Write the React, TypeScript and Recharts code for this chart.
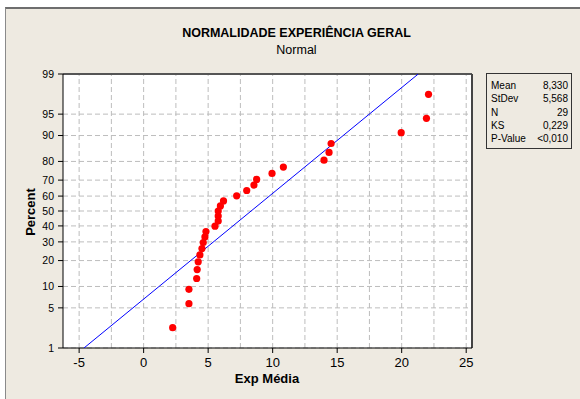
import React from 'react'
import {
	CartesianGrid,
	ReferenceLine,
	Scatter,
	ScatterChart,
	XAxis,
	YAxis,
} from 'recharts'

// percentis (posições de Minitab) e valores observados de Exp Média
const percentValues = [
	2.38, 5.78, 9.18, 12.59, 15.99, 19.39, 22.79, 26.19, 29.59, 33.0, 36.39,
	39.8, 43.2, 46.6, 50.0, 53.4, 56.8, 60.2, 63.61, 67.01, 70.41, 73.81, 77.21,
	80.61, 84.01, 87.41, 90.82, 94.22, 97.62,
]
const expMedia = [
	2.25, 3.51, 3.51, 4.11, 4.15, 4.23, 4.36, 4.52, 4.62, 4.75, 4.83, 5.53,
	5.78, 5.78, 5.78, 5.95, 6.19, 7.21, 7.99, 8.55, 8.76, 9.95, 10.83, 13.98,
	14.37, 14.53, 19.96, 21.92, 22.08,
]

const percentTicks = [1, 5, 10, 20, 30, 40, 50, 60, 70, 80, 90, 95, 99]
const xTicks = [-5, 0, 5, 10, 15, 20, 25]
const xGrid = [-5, -2.5, 0, 2.5, 5, 7.5, 10, 12.5, 15, 17.5, 20, 22.5, 25]

const statLabels = ['Mean', 'StDev', 'N', 'KS', 'P-Value']
const statValues = ['8,330', '5,568', '29', '0,229', '<0,010']
const fitMean = 8.33
const fitStDev = 5.568

// inversa da normal padrão (Acklam)
function probit(p: number) {
	const a = [-39.69683028665376, 220.9460984245205, -275.9285104469687, 138.357751867269, -30.66479806614716, 2.506628277459239]
	const b = [-54.47609879822406, 161.5858368580409, -155.6989798598866, 66.80131188771972, -13.28068155288572]
	const c = [-0.007784894002430293, -0.3223964580411365, -2.400758277161838, -2.549732539343734, 4.374664141464968, 2.938163982698783]
	const d = [0.007784695709041462, 0.3224671290700398, 2.445134137142996, 3.754408661907416]
	const pl = 0.02425
	if (p < pl) {
		const q = Math.sqrt(-2 * Math.log(p))
		return (((((c[0] * q + c[1]) * q + c[2]) * q + c[3]) * q + c[4]) * q + c[5]) /
			((((d[0] * q + d[1]) * q + d[2]) * q + d[3]) * q + 1)
	}
	if (p <= 1 - pl) {
		const q = p - 0.5
		const r = q * q
		return ((((((a[0] * r + a[1]) * r + a[2]) * r + a[3]) * r + a[4]) * r + a[5]) * q) /
			(((((b[0] * r + b[1]) * r + b[2]) * r + b[3]) * r + b[4]) * r + 1)
	}
	const q = Math.sqrt(-2 * Math.log(1 - p))
	return -(((((c[0] * q + c[1]) * q + c[2]) * q + c[3]) * q + c[4]) * q + c[5]) /
		((((d[0] * q + d[1]) * q + d[2]) * q + d[3]) * q + 1)
}

const zTicks = percentTicks.map((p) => probit(p / 100))
const zMin = zTicks[0]
const zMax = zTicks[zTicks.length - 1]

const points = expMedia.map((x, i) => ({ x, z: probit(percentValues[i] / 100) }))
const fitLine = [
	{ x: fitMean + fitStDev * zMin, z: zMin },
	{ x: fitMean + fitStDev * zMax, z: zMax },
]

const font = "'Liberation Sans', Arial, sans-serif"
const beige = '#EEEAE1'

const Dot = (props: any) => (
	<circle cx={props.cx} cy={props.cy} r={3.6} fill='#FF0000' />
)

export default function App() {
	return (
		<div
			style={{
				position: 'absolute',
				left: 0,
				top: 0,
				width: 580,
				height: 399,
				background: '#fff',
				overflow: 'hidden',
				fontFamily: font,
			}}
		>
			<div
				style={{
					position: 'absolute',
					left: 5,
					top: 7,
					width: 600,
					height: 420,
					background: beige,
					borderTop: '2px solid #6e6e6e',
					borderLeft: '1px solid #8a8a8a',
				}}
			/>
			<div
				style={{
					position: 'absolute',
					left: 0,
					width: 593,
					top: 26,
					textAlign: 'center',
					fontSize: 12.5,
					fontWeight: 'bold',
					color: '#000',
				}}
			>
				NORMALIDADE EXPERIÊNCIA GERAL
			</div>
			<div
				style={{
					position: 'absolute',
					left: 0,
					width: 593,
					top: 43,
					textAlign: 'center',
					fontSize: 12.5,
					color: '#000',
				}}
			>
				Normal
			</div>
			<div style={{ position: 'absolute', left: 0, top: 0 }}>
				<ScatterChart
					width={580}
					height={399}
					margin={{ top: 74, right: 108, bottom: 21, left: 23 }}
				>
					<CartesianGrid
						fill='#fff'
						vertical={false}
						stroke='#bdbdbd'
						strokeDasharray='5 3'
					/>
					{xGrid.map((v) => (
						<ReferenceLine
							key={v}
							x={v}
							stroke='#bdbdbd'
							strokeDasharray='5 3'
						/>
					))}
					<XAxis
						type='number'
						dataKey='x'
						domain={[-6.25, 25.45]}
						ticks={xTicks}
						interval={0}
						allowDataOverflow
						height={30}
						tickSize={5}
						tickMargin={5}
						stroke='#000'
						tick={{ fill: '#000', fontSize: 13, fontFamily: font }}
					/>
					<YAxis
						type='number'
						dataKey='z'
						domain={[zMin, zMax]}
						ticks={zTicks}
						interval={0}
						allowDataOverflow
						width={40}
						tickSize={5}
						tickMargin={4}
						stroke='#000'
						tick={{ fill: '#000', fontSize: 10.5, fontFamily: font }}
						tickFormatter={(v: number) => {
							const i = zTicks.findIndex((t) => Math.abs(t - v) < 1e-6)
							return i >= 0 ? String(percentTicks[i]) : ''
						}}
					/>
					<ReferenceLine y={zMax} stroke='#555' strokeWidth={2} />
					<ReferenceLine x={25.45} stroke='#444' strokeWidth={2} />
					<Scatter
						data={fitLine}
						line={{ stroke: '#0000FF', strokeWidth: 1 }}
						shape={() => <g />}
						isAnimationActive={false}
					/>
					<Scatter data={points} shape={Dot} isAnimationActive={false} />
				</ScatterChart>
			</div>
			<div
				style={{
					position: 'absolute',
					left: 0,
					width: 534,
					top: 371,
					textAlign: 'center',
					fontSize: 13,
					fontWeight: 'bold',
				}}
			>
				Exp Média
			</div>
			<div
				style={{
					position: 'absolute',
					left: 30,
					top: 212,
					transform: 'translate(-50%, -50%) rotate(-90deg)',
					fontSize: 13,
					fontWeight: 'bold',
					whiteSpace: 'nowrap',
				}}
			>
				Percent
			</div>
			<div
				style={{
					position: 'absolute',
					left: 486,
					top: 73,
					width: 86,
					height: 76,
					border: '1px solid #333',
					boxSizing: 'border-box',
					padding: '5px 3px 0 4px',
					fontSize: 10,
					lineHeight: '13.3px',
				}}
			>
				{statLabels.map((l, i) => (
					<div
						key={l}
						style={{ display: 'flex', justifyContent: 'space-between' }}
					>
						<span>{l}</span>
						<span>{statValues[i]}</span>
					</div>
				))}
			</div>
		</div>
	)
}
